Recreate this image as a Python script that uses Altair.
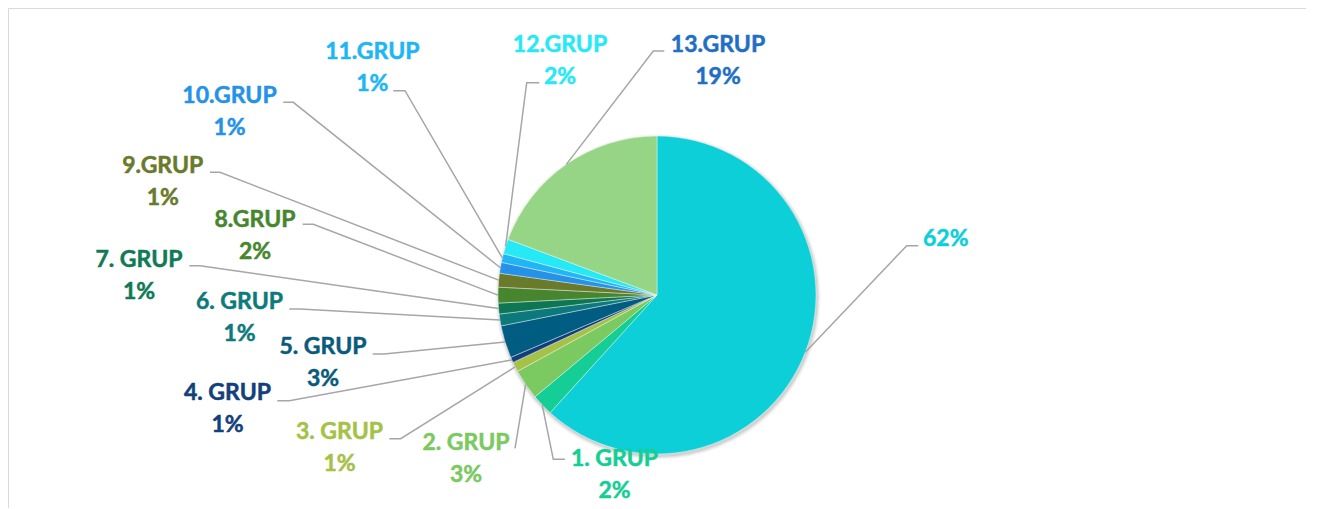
import math
import altair as alt
import pandas as pd

# ---------------- data ----------------
names = ["", "1. GRUP", "2. GRUP", "3. GRUP", "4. GRUP", "5. GRUP", "6. GRUP",
         "7. GRUP", "8.GRUP", "9.GRUP", "10.GRUP", "11.GRUP", "12.GRUP", "13.GRUP"]
shares = [61.7, 2.2, 3.1, 1.0, 0.55, 3.3, 1.2, 1.1, 1.6, 1.4, 1.1, 0.9, 1.5, 19.3]
pct_labels = ["62%", "2%", "3%", "1%", "1%", "3%", "1%", "1%", "2%", "1%", "1%", "1%", "2%", "19%"]
slice_colors = ["#0CCFD8", "#15CE95", "#7BC961", "#A5C147", "#123F7B", "#005C80", "#0C7A7C",
                "#0D7653", "#47862E", "#697A2B", "#2592E8", "#20B6F3", "#27E9F5", "#96D585"]
label_colors = ["#0CCFD8", "#15CE95", "#7BC961", "#A5C147", "#12407A", "#0A5A7C", "#0C7A7C",
                "#0F7A55", "#47862E", "#697A2B", "#2592E8", "#20B6F3", "#27E9F5", "#1F6FC4"]

# ---------------- layout (page pixels) ----------------
OFF = 8
W, H = 1298, 500
CX, CY, R = 657 - OFF, 295 - OFF, 159
label_cx = [945.8, 614.5, 466, 339.5, 227.5, 323, 239.5, 139, 255, 162.8, 229.5, 372.3, 560, 718]
label_base = [246, 466, 450, 439.3, 400, 354.3, 309.3, 266.7, 226.7, 173.3, 103.3, 59.3, 51.7, 51.7]
LINE_GAP = 32
elbow = [(906.7, 245.7), (553.3, 459.3), (515, 448.3), (400.7, 438.7), (289.3, 400.7),
         (384, 354), (300, 309), (200, 265.7), (313.3, 224.3), (220, 172.3),
         (293.3, 102.3), (405, 90.7), (526.7, 82.7), (653.3, 51)]
leader_end = [(918.3, 245.7), (565, 459.3), (515, 448.3), (389.3, 438.7), (277.3, 400.7),
              (372.7, 354), (289.3, 309), (189.3, 265.7), (302.7, 224.3), (210, 172.3),
              (283.3, 102.3), (393.3, 90.7), (539.3, 82.7), (664.3, 51)]

# ---------------- tables ----------------
pie_df = pd.DataFrame({"name": names, "share": shares, "order": list(range(len(names))),
                       "color": slice_colors})

total = sum(shares)
cum = 0.0
lead_rows, text_rows = [], []
for i, s in enumerate(shares):
    mid = (cum + s / 2) / total * 2 * math.pi
    cum += s
    ex = CX + R * math.sin(mid)
    ey = CY - R * math.cos(mid)
    pts = [(ex, ey), (elbow[i][0] - OFF, elbow[i][1] - OFF), (leader_end[i][0] - OFF, leader_end[i][1] - OFF)]
    for k, (px, py) in enumerate(pts):
        lead_rows.append({"g": i, "k": k, "x": px, "y": py})
    if names[i]:
        text_rows.append({"x": label_cx[i] - OFF, "y": label_base[i] - OFF, "t": names[i], "c": label_colors[i]})
        text_rows.append({"x": label_cx[i] - OFF, "y": label_base[i] - OFF + LINE_GAP, "t": pct_labels[i], "c": label_colors[i]})
    else:
        text_rows.append({"x": label_cx[i] - OFF, "y": label_base[i] - OFF, "t": pct_labels[i], "c": label_colors[i]})

lead_df = pd.DataFrame(lead_rows)
text_df = pd.DataFrame(text_rows)

xs = alt.Scale(domain=[0, W], range=[0, W])
ys = alt.Scale(domain=[0, H], range=[0, H])

shadows = [
    alt.Chart(pd.DataFrame({"a": [0]})).mark_arc(theta=0, theta2=2 * math.pi, outerRadius=R + d,
                                                 color="#000000", opacity=op)
    .encode(x=alt.value(CX + 1), y=alt.value(CY + 2))
    for d, op in [(4, 0.025), (3, 0.035), (2, 0.05), (1, 0.07)]
]

pie = alt.Chart(pie_df).mark_arc(outerRadius=R, stroke="#FFFFFF", strokeWidth=0.4).encode(
    theta=alt.Theta("share:Q", stack=True),
    order=alt.Order("order:Q"),
    color=alt.Color("color:N", scale=None, legend=None),
    x=alt.value(CX), y=alt.value(CY),
)

leaders = alt.Chart(lead_df).mark_line(color="#A6A6A6", strokeWidth=1.5).encode(
    x=alt.X("x:Q", scale=xs, axis=None),
    y=alt.Y("y:Q", scale=ys, axis=None),
    detail="g:N",
    order="k:Q",
)

texts = alt.Chart(text_df).mark_text(font="Lato", fontWeight="bold", fontSize=23,
                                     align="center", baseline="alphabetic",
                                     strokeWidth=0.5).encode(
    x=alt.X("x:Q", scale=xs, axis=None),
    y=alt.Y("y:Q", scale=ys, axis=None),
    text="t:N",
    color=alt.Color("c:N", scale=None, legend=None),
    stroke=alt.Stroke("c:N", scale=None, legend=None),
)

chart = alt.layer(*shadows, pie, leaders, texts).properties(
    width=W, height=H, padding=0, autosize=alt.AutoSizeParams(type="none")
).configure_view(stroke="#D9D9D9", strokeWidth=1)

chart.save("out.html", embed_options={"renderer": "svg", "actions": False})
